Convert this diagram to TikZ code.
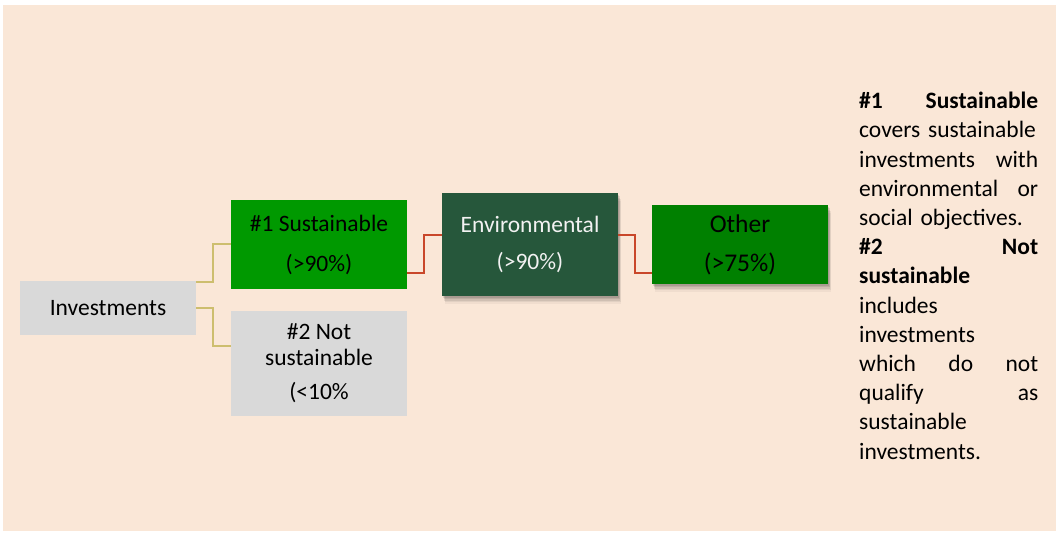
\documentclass[tikz,border=0pt]{standalone}
\usepackage{fontspec}
\setmainfont{Carlito}
\usetikzlibrary{shadows}
\definecolor{bgbeige}{HTML}{FAE7D7}
\definecolor{boxgray}{HTML}{D9D9D9}
\definecolor{susgreen}{HTML}{009900}
\definecolor{envgreen}{HTML}{26573B}
\definecolor{othgreen}{HTML}{008000}
\definecolor{linkred}{HTML}{C9472A}
\definecolor{linkolive}{HTML}{CDBE6E}
\tikzset{
  box/.style={rectangle, inner sep=0pt, align=center, text=black},
  txt/.style={font=\fontsize{23.5}{40}\selectfont},
  shadowed/.style={
    drop shadow={shadow xshift=1pt, shadow yshift=-1.5pt, opacity=0.10, fill=black},
    drop shadow={shadow xshift=1.5pt, shadow yshift=-3pt, opacity=0.09, fill=black},
    drop shadow={shadow xshift=2pt, shadow yshift=-4.5pt, opacity=0.08, fill=black},
    drop shadow={shadow xshift=2.5pt, shadow yshift=-6pt, opacity=0.06, fill=black},
    drop shadow={shadow xshift=3pt, shadow yshift=-7.5pt, opacity=0.04, fill=black}},
  olivelink/.style={draw=linkolive, line width=1.3pt},
  redlink/.style={draw=linkred, line width=1.5pt},
}
\begin{document}
\begin{tikzpicture}[x=1pt,y=-1pt]
\useasboundingbox (0,0) rectangle (1057,535);
\fill[white] (0,0) rectangle (1057,535);
\fill[bgbeige] (3,5) rectangle (1056,531);

\node[box, fill=boxgray, minimum width=176pt, minimum height=54pt,
      font=\fontsize{23.5}{28}\selectfont] (inv) at (108,308) {Investments};
\node[box, fill=susgreen, minimum width=176pt, minimum height=89pt, txt] (sus) at (319,244.5) {\#1 Sustainable\\(>90\%)};
\node[box, fill=boxgray, minimum width=176pt, minimum height=105pt,
      font=\fontsize{23.5}{26}\selectfont] (not) at (319,363.5) {\#2 Not\\sustainable\\[8pt](<10\%};
\node[box, fill=envgreen, shadowed, text=white!95!black, minimum width=176pt, minimum height=103pt,
      font=\fontsize{23.5}{37}\selectfont] (env) at (530,244.5) {Environmental\\(>90\%)};
\node[box, fill=othgreen, shadowed, minimum width=176pt, minimum height=79pt,
      font=\fontsize{25.5}{39}\selectfont] (oth) at (740,244.5) {Other\\(>75\%)};

\draw[olivelink] (inv.east |- 0,282) -| (213,244) -- (sus.west |- 0,244);
\draw[olivelink] (inv.east |- 0,308) -| (213,346) -- (not.west |- 0,346);
\draw[redlink] (sus.east |- 0,273) -| (424,235) -- (env.west |- 0,235);
\draw[redlink] (env.east |- 0,235) -| (635,273) -- (oth.west |- 0,273);

\node[anchor=north west, inner sep=0pt, text width=179pt, align=left,
      font=\fontsize{23.5}{29.2}\selectfont] (desc) at (859,92)
{\textbf{\#1}\hfill\textbf{Sustainable}\\
covers sustainable\\
investments\hfill with\\
environmental\hfill or\\
social objectives.\\
\textbf{\#2}\hfill\textbf{Not}\\
\textbf{sustainable}\\
includes\\
investments\\
which\hfill do\hfill not\\
qualify\hfill as\\
sustainable\\
investments.};
\end{tikzpicture}
\end{document}
